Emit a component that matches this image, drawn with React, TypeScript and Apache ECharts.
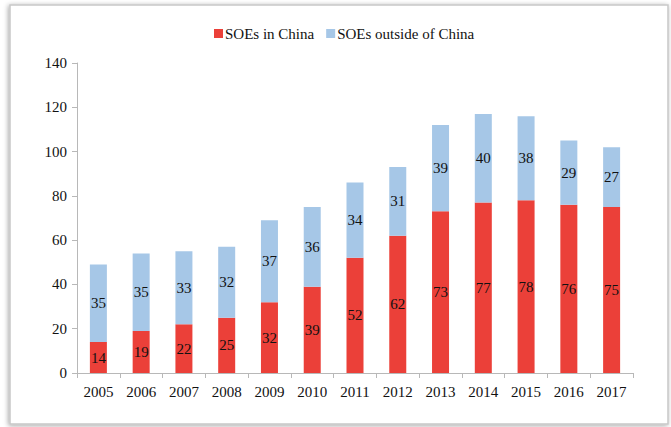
import React, { useEffect, useRef } from "react";
import * as echarts from "echarts";

const years = ["2005", "2006", "2007", "2008", "2009", "2010", "2011", "2012", "2013", "2014", "2015", "2016", "2017"];
const inChina = [14, 19, 22, 25, 32, 39, 52, 62, 73, 77, 78, 76, 75];
const outsideChina = [35, 35, 33, 32, 37, 36, 34, 31, 39, 40, 38, 29, 27];
const seriesNames = ["SOEs in China", "SOEs outside of China"];

const FONT = "'Liberation Serif', 'Times New Roman', serif";

export default function App() {
  const ref = useRef<HTMLDivElement>(null);
  useEffect(() => {
    const chart = echarts.init(ref.current!, undefined, { renderer: "svg" });
    chart.setOption({
      animation: false,
      backgroundColor: "#ffffff",
      textStyle: { fontFamily: FONT },
      graphic: [
        {
          type: "rect",
          shape: { x: 10, y: 5, width: 658, height: 419 },
          style: {
            fill: "#fff",
            stroke: "#c8c8c8",
            lineWidth: 1.5,
            shadowBlur: 5,
            shadowColor: "rgba(0,0,0,0.35)",
            shadowOffsetX: -1,
            shadowOffsetY: 1,
          },
          z: -10,
          silent: true,
        },
      ],
      legend: {
        top: 21,
        left: 209,
        itemWidth: 9,
        itemHeight: 9,
        itemGap: 12,
        icon: "rect",
        textStyle: { fontFamily: FONT, fontSize: 15, color: "#111", padding: [0, 0, 0, -3] },
        data: seriesNames,
      },
      grid: { left: 77, right: 38, top: 63, bottom: 54, containLabel: false },
      xAxis: {
        type: "category",
        data: years,
        axisLine: { lineStyle: { color: "#b8b8b8" } },
        axisTick: { show: true, alignWithLabel: false, length: 5, lineStyle: { color: "#b8b8b8" } },
        axisLabel: { fontFamily: FONT, fontSize: 15, color: "#111", margin: 11 },
      },
      yAxis: {
        type: "value",
        min: 0,
        max: 140,
        interval: 20,
        axisLine: { show: true, lineStyle: { color: "#b8b8b8" } },
        axisTick: { show: true, length: 5, lineStyle: { color: "#b8b8b8" } },
        splitLine: { show: false },
        axisLabel: { fontFamily: FONT, fontSize: 15, color: "#111", margin: 10 },
      },
      series: [
        {
          name: seriesNames[0],
          type: "bar",
          stack: "total",
          barWidth: 17,
          data: inChina,
          itemStyle: { color: "#eb4039" },
          label: { show: true, position: "inside", fontFamily: FONT, fontSize: 15, color: "#111" },
        },
        {
          name: seriesNames[1],
          type: "bar",
          stack: "total",
          barWidth: 17,
          data: outsideChina,
          itemStyle: { color: "#a6c7e7" },
          label: { show: true, position: "inside", fontFamily: FONT, fontSize: 15, color: "#111" },
        },
      ],
    });
    return () => chart.dispose();
  }, []);
  return <div ref={ref} style={{ position: "fixed", left: 0, top: 0, width: 671, height: 427 }} />;
}
